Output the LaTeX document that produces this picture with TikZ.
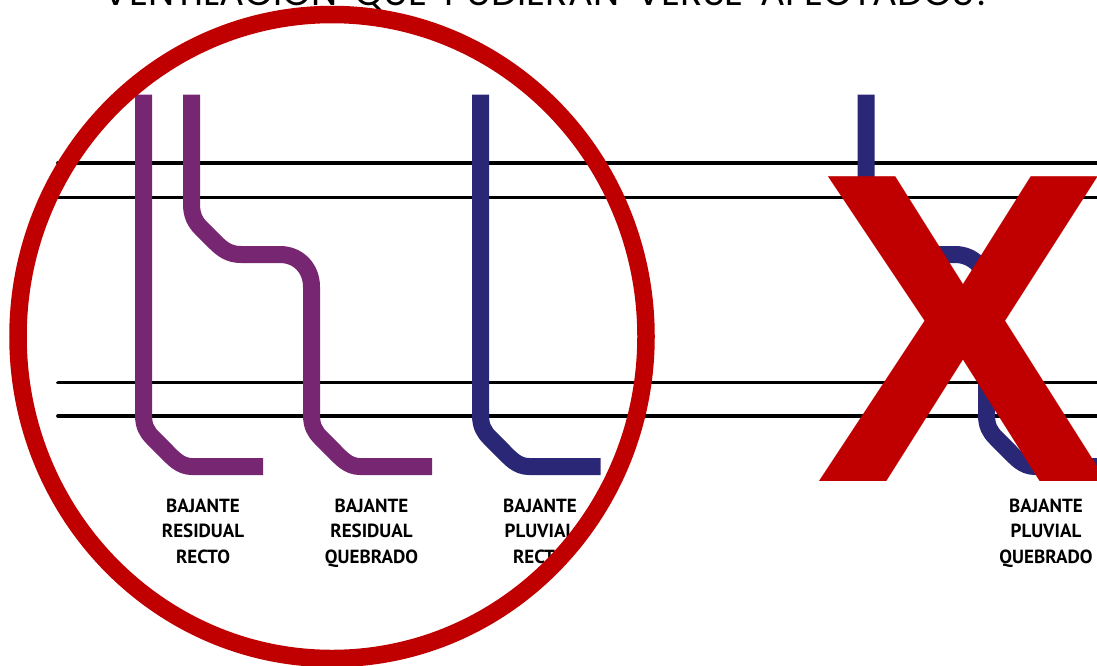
\documentclass[tikz,border=0pt]{standalone}
\usepackage{fontspec}
\setmainfont{PT Sans}
\newfontfamily\topfont[WordSpace=1.7]{Poppins}
\newfontfamily\xfont{Liberation Sans}
\definecolor{cPurple}{HTML}{772671}
\definecolor{cBlue}{HTML}{2A2777}
\definecolor{cRed}{HTML}{C00000}
\tikzset{
  x=1pt,y=-1pt,
  pipeP/.style={draw=cPurple,line width=17pt,line join=round},
  pipeB/.style={draw=cBlue,line width=17pt,line join=round},
  level/.style={draw=black,line width=3.8pt,line cap=round},
  lab/.style={font=\bfseries\fontsize{19}{25.5}\selectfont,align=center,inner sep=0pt,text=black},
}
\begin{document}
\begin{tikzpicture}
\path[use as bounding box] (0,0) rectangle (1097,665);
\begin{scope}
\clip (0,0) rectangle (1097,665);
\node[anchor=base,inner sep=0pt] (title) at (549,5) {\resizebox{890pt}{!}{\topfont\fontsize{32}{32}\selectfont VENTILACIÓN QUE PUDIERAN VERSE AFECTADOS?}};
\coordinate (l1a) at (58,163); \coordinate (l1b) at (1110,163);
\coordinate (l2a) at (58,197.5); \coordinate (l2b) at (1110,197.5);
\coordinate (l3a) at (58,382.5); \coordinate (l3b) at (1110,382.5);
\coordinate (l4a) at (58,416); \coordinate (l4b) at (1110,416);
\draw[level] (l1a) -- (l1b);
\draw[level] (l2a) -- (l2b);
\draw[level] (l3a) -- (l3b);
\draw[level] (l4a) -- (l4b);
% purple straight
\draw[pipeP] (143.5,94.5) -- (143.5,415) .. controls (143.5,426) and (147,432) .. (153,438) -- (166,451) .. controls (173,458) and (180,466.5) .. (192,466.5) -- (263,466.5);
% purple offset
\draw[pipeP] (191.5,94.5) -- (191.5,204) .. controls (191.5,215) and (195,222) .. (201,228) -- (215,242) .. controls (222,249) and (229,254.5) .. (241,254.5) -- (280,254.5) .. controls (298,254.5) and (311.5,268) .. (311.5,287) -- (311.5,415) .. controls (311.5,426) and (315,432) .. (321,438) -- (334,451) .. controls (341,458) and (348,466.5) .. (360,466.5) -- (432,466.5);
% blue straight
\draw[pipeB] (480.5,94.5) -- (480.5,415) .. controls (480.5,426) and (484,432) .. (490,438) -- (503,451) .. controls (510,458) and (517,466.5) .. (529,466.5) -- (600.5,466.5);
% blue offset
\draw[pipeB] (866,94.5) -- (866,204) .. controls (866,215) and (869.5,222) .. (875.5,228) -- (889.5,242) .. controls (896.5,249) and (903.5,254.5) .. (915.5,254.5) -- (955,254.5) .. controls (973,254.5) and (986.5,268) .. (986.5,287) -- (986.5,415) .. controls (986.5,426) and (990,432) .. (996,438) -- (1009,451) .. controls (1016,458) and (1023,466.5) .. (1035,466.5) -- (1110,466.5);
\node[lab] (t1) at (203,531) {BAJANTE\\RESIDUAL\\RECTO};
\node[lab] (t2) at (371.5,533) {BAJANTE\\RESIDUAL\\QUEBRADO};
\node[lab] (t3) at (540,531) {BAJANTE\\PLUVIAL\\RECTO};
\node[lab] (t4) at (1046,533) {BAJANTE\\PLUVIAL\\QUEBRADO};
\draw[cRed,line width=17.5pt] (332,336.5) ellipse [x radius=314,y radius=322];
\node[anchor=base,inner sep=0pt,text=cRed] (bigx) at (963.5,481) {\xfont\bfseries\fontsize{443}{443}\selectfont X};
\end{scope}
\end{tikzpicture}
\end{document}
